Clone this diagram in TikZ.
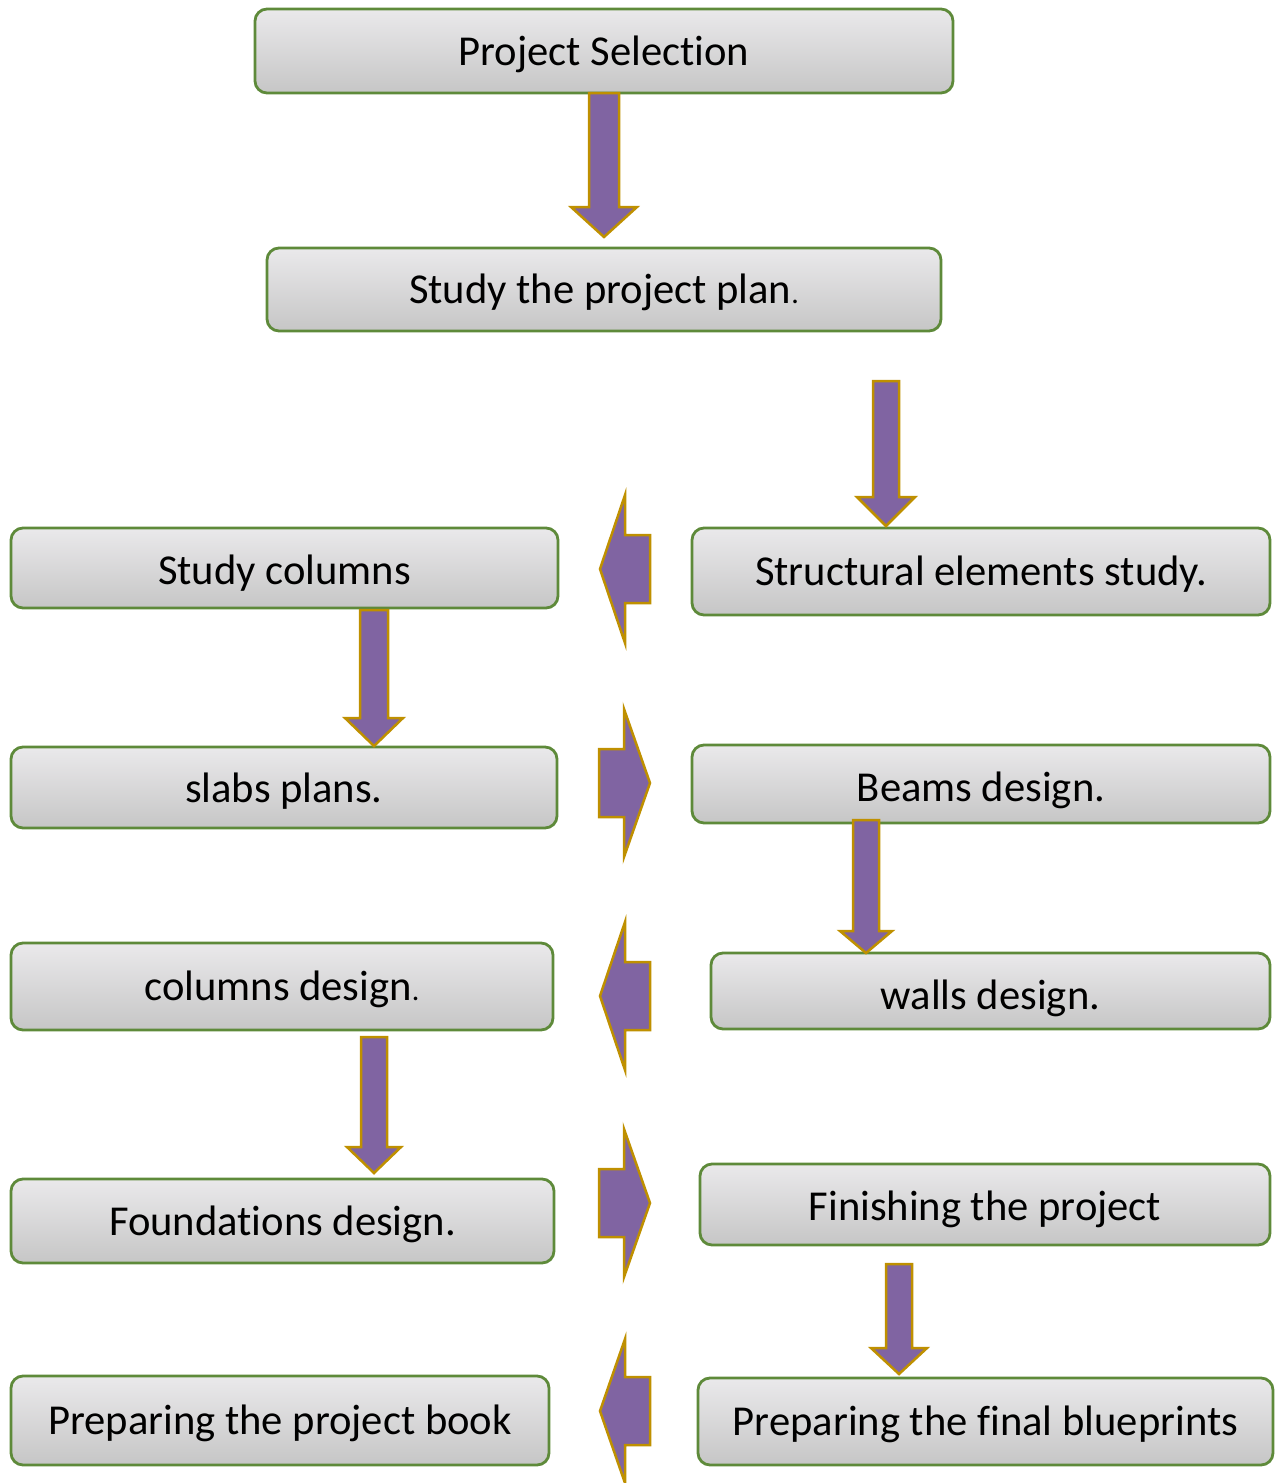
\documentclass[tikz,border=0pt]{standalone}
\usepackage{fontspec}
\setmainfont[Ligatures=NoCommon]{Carlito}
\definecolor{boxgreen}{RGB}{94,138,58}
\definecolor{boxtop}{RGB}{234,233,235}
\definecolor{boxbot}{RGB}{198,198,198}
\definecolor{arrfill}{RGB}{128,100,162}
\definecolor{arrgold}{RGB}{191,144,0}
\newcommand\bx[7]{\node[box, text height={(28+#7)*1pt}, minimum width={(#4-#2)*1pt}, minimum height={(#5-#3)*1pt}] (#1) at ({(#2+#4)/2},{(#3+#5)/2}) {#6};}
\newcommand\dnarr[6]{\draw[blockarr] ({#1-#5},#2) -- ({#1+#5},#2) -- ({#1+#5},#3) -- ({#1+#6},#3) -- (#1,#4) -- ({#1-#6},#3) -- ({#1-#5},#3) -- cycle;}
\newcommand\hzarr[6]{\draw[blockarr] (#3,{#4-#5}) -- (#2,{#4-#5}) -- (#2,{#4-#6}) -- (#1,#4) -- (#2,{#4+#6}) -- (#2,{#4+#5}) -- (#3,{#4+#5}) -- cycle;}
\newcommand\smdot{{\fontsize{30}{30}\selectfont .}}
\begin{document}
\begin{tikzpicture}[x=1pt,y=-1pt,
  box/.style={draw=boxgreen, line width=2.8pt, rounded corners=12pt, top color=boxtop, bottom color=boxbot, inner sep=0pt, text depth=0pt, font=\fontsize{42.6}{50}\selectfont, text=black},
  blockarr/.style={draw=arrgold, line width=2.5pt, fill=arrfill, line join=miter}]
\useasboundingbox (0,0) rectangle (1275,1483);
\bx{ps}{255}{9}{953}{93}{Project Selection}{0}
\bx{sp}{267}{248}{941}{331}{Study the project plan\smdot}{0}
\bx{sc}{11}{528}{558}{608}{Study columns}{4}
\bx{se}{692}{528}{1270}{615}{Structural elements study.}{0}
\bx{sl}{11}{747}{557}{828}{slabs plans.}{2}
\bx{bd}{692}{745}{1270}{823}{Beams design.}{6}
\bx{cd}{11}{943}{553}{1030}{columns design\smdot}{0}
\bx{wd}{711}{953}{1270}{1029}{walls design.}{8}
\bx{fd}{11}{1179}{554}{1263}{Foundations design.}{0}
\bx{fp}{700}{1164}{1270}{1245}{Finishing the project}{4}
\bx{pb}{11}{1376}{549}{1465}{Preparing the project book}{0}
\bx{pf}{698}{1378}{1273}{1465}{Preparing the final blueprints}{0}
% vertical block arrows
\dnarr{604}{93}{207}{237}{15}{33}
\dnarr{886}{381}{497}{526}{13}{29}
\dnarr{374}{610}{718}{746}{14}{29}
\dnarr{866}{820}{931}{953}{13}{26}
\dnarr{374}{1037}{1147}{1173}{13}{27}
\dnarr{899}{1264}{1348}{1374}{13}{28}
% horizontal block arrows
\hzarr{600}{625}{650}{569}{34}{74}
\hzarr{650}{624}{599}{783}{34}{74}
\hzarr{600}{625}{650}{996}{34}{74}
\hzarr{650}{624}{599}{1203}{34}{74}
\hzarr{600}{625}{650}{1411}{34}{72}
\end{tikzpicture}
\end{document}
